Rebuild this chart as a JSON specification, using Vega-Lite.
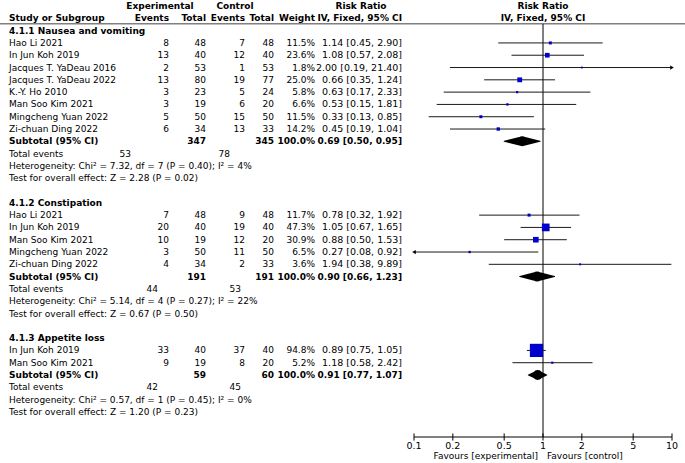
{
  "$schema": "https://vega.github.io/schema/vega-lite/v6.json",
  "width": 685,
  "height": 437,
  "padding": {"left": 0, "top": 0, "right": 0, "bottom": 26},
  "autosize": {"type": "none"},
  "background": "white",
  "config": {
    "view": {"stroke": null},
    "text": {"font": "DejaVu Sans", "fontSize": 9, "baseline": "middle", "color": "black"}
  },
  "datasets": {
    "studies": [
      {"g": "1", "row": 3, "study": "Hao Li 2021", "e_ev": 8, "e_tot": 48, "c_ev": 7, "c_tot": 48, "w": 0.115, "ci": "1.14 [0.45, 2.90]", "rr": 1.14, "lo": 0.45, "hi": 2.90},
      {"g": "1", "row": 4, "study": "In Jun Koh 2019", "e_ev": 13, "e_tot": 40, "c_ev": 12, "c_tot": 40, "w": 0.236, "ci": "1.08 [0.57, 2.08]", "rr": 1.08, "lo": 0.57, "hi": 2.08},
      {"g": "1", "row": 5, "study": "Jacques T. YaDeau 2016", "e_ev": 2, "e_tot": 53, "c_ev": 1, "c_tot": 53, "w": 0.018, "ci": "2.00 [0.19, 21.40]", "rr": 2.00, "lo": 0.19, "hi": 21.40},
      {"g": "1", "row": 6, "study": "Jacques T. YaDeau 2022", "e_ev": 13, "e_tot": 80, "c_ev": 19, "c_tot": 77, "w": 0.250, "ci": "0.66 [0.35, 1.24]", "rr": 0.66, "lo": 0.35, "hi": 1.24},
      {"g": "1", "row": 7, "study": "K.-Y. Ho 2010", "e_ev": 3, "e_tot": 23, "c_ev": 5, "c_tot": 24, "w": 0.058, "ci": "0.63 [0.17, 2.33]", "rr": 0.63, "lo": 0.17, "hi": 2.33},
      {"g": "1", "row": 8, "study": "Man Soo Kim 2021", "e_ev": 3, "e_tot": 19, "c_ev": 6, "c_tot": 20, "w": 0.066, "ci": "0.53 [0.15, 1.81]", "rr": 0.53, "lo": 0.15, "hi": 1.81},
      {"g": "1", "row": 9, "study": "Mingcheng Yuan 2022", "e_ev": 5, "e_tot": 50, "c_ev": 15, "c_tot": 50, "w": 0.115, "ci": "0.33 [0.13, 0.85]", "rr": 0.33, "lo": 0.13, "hi": 0.85},
      {"g": "1", "row": 10, "study": "Zi-chuan Ding 2022", "e_ev": 6, "e_tot": 34, "c_ev": 13, "c_tot": 33, "w": 0.142, "ci": "0.45 [0.19, 1.04]", "rr": 0.45, "lo": 0.19, "hi": 1.04},
      {"g": "2", "row": 17, "study": "Hao Li 2021", "e_ev": 7, "e_tot": 48, "c_ev": 9, "c_tot": 48, "w": 0.117, "ci": "0.78 [0.32, 1.92]", "rr": 0.78, "lo": 0.32, "hi": 1.92},
      {"g": "2", "row": 18, "study": "In Jun Koh 2019", "e_ev": 20, "e_tot": 40, "c_ev": 19, "c_tot": 40, "w": 0.473, "ci": "1.05 [0.67, 1.65]", "rr": 1.05, "lo": 0.67, "hi": 1.65},
      {"g": "2", "row": 19, "study": "Man Soo Kim 2021", "e_ev": 10, "e_tot": 19, "c_ev": 12, "c_tot": 20, "w": 0.309, "ci": "0.88 [0.50, 1.53]", "rr": 0.88, "lo": 0.50, "hi": 1.53},
      {"g": "2", "row": 20, "study": "Mingcheng Yuan 2022", "e_ev": 3, "e_tot": 50, "c_ev": 11, "c_tot": 50, "w": 0.065, "ci": "0.27 [0.08, 0.92]", "rr": 0.27, "lo": 0.08, "hi": 0.92},
      {"g": "2", "row": 21, "study": "Zi-chuan Ding 2022", "e_ev": 4, "e_tot": 34, "c_ev": 2, "c_tot": 33, "w": 0.036, "ci": "1.94 [0.38, 9.89]", "rr": 1.94, "lo": 0.38, "hi": 9.89},
      {"g": "3", "row": 28, "study": "In Jun Koh 2019", "e_ev": 33, "e_tot": 40, "c_ev": 37, "c_tot": 40, "w": 0.948, "ci": "0.89 [0.75, 1.05]", "rr": 0.89, "lo": 0.75, "hi": 1.05},
      {"g": "3", "row": 29, "study": "Man Soo Kim 2021", "e_ev": 9, "e_tot": 19, "c_ev": 8, "c_tot": 20, "w": 0.052, "ci": "1.18 [0.58, 2.42]", "rr": 1.18, "lo": 0.58, "hi": 2.42}
    ],
    "subtotals": [
      {"g": "1", "row": 11, "label": "Subtotal (95% CI)", "e_tot": 347, "c_tot": 345, "w": 1, "ci": "0.69 [0.50, 0.95]", "rr": 0.69, "lo": 0.50, "hi": 0.95},
      {"g": "2", "row": 22, "label": "Subtotal (95% CI)", "e_tot": 191, "c_tot": 191, "w": 1, "ci": "0.90 [0.66, 1.23]", "rr": 0.90, "lo": 0.66, "hi": 1.23},
      {"g": "3", "row": 30, "label": "Subtotal (95% CI)", "e_tot": 59, "c_tot": 60, "w": 1, "ci": "0.91 [0.77, 1.07]", "rr": 0.91, "lo": 0.77, "hi": 1.07}
    ],
    "events": [
      {"g": "1", "row": 12, "label": "Total events", "e_ev": 53, "c_ev": 78},
      {"g": "2", "row": 23, "label": "Total events", "e_ev": 44, "c_ev": 53},
      {"g": "3", "row": 31, "label": "Total events", "e_ev": 42, "c_ev": 45}
    ],
    "notes": [
      {"row": 13, "text": "Heterogeneity: Chi² = 7.32, df = 7 (P = 0.40); I² = 4%"},
      {"row": 14, "text": "Test for overall effect: Z = 2.28 (P = 0.02)"},
      {"row": 24, "text": "Heterogeneity: Chi² = 5.14, df = 4 (P = 0.27); I² = 22%"},
      {"row": 25, "text": "Test for overall effect: Z = 0.67 (P = 0.50)"},
      {"row": 32, "text": "Heterogeneity: Chi² = 0.57, df = 1 (P = 0.45); I² = 0%"},
      {"row": 33, "text": "Test for overall effect: Z = 1.20 (P = 0.23)"}
    ],
    "groups": [
      {"row": 2, "text": "4.1.1 Nausea and vomiting"},
      {"row": 16, "text": "4.1.2 Constipation"},
      {"row": 27, "text": "4.1.3 Appetite loss"}
    ],
    "ticks": [{"v": 0.1}, {"v": 0.2}, {"v": 0.5}, {"v": 1}, {"v": 2}, {"v": 5}, {"v": 10}]
  },
  "layer": [
    {
      "data": {"name": "ticks"},
      "mark": {"type": "rule", "color": "black", "strokeWidth": 1},
      "encoding": {
        "x": {"field": "v", "type": "quantitative",
          "scale": {"type": "log", "domain": [0.1, 10], "range": [414, 672], "clamp": true},
          "axis": null},
        "y": {"datum": 34.75, "type": "quantitative", "scale": {"domain": [-0.49, 35.04], "reverse": true, "nice": false, "zero": false}, "axis": null},
        "y2": {"datum": 35.33}
      }
    },
    {
      "data": {"values": [{}]},
      "mark": {"type": "rule", "color": "black", "strokeWidth": 1},
      "encoding": {"x": {"datum": 0.1, "type": "quantitative", "axis": null}, "x2": {"datum": 10}, "y": {"datum": 35.04, "type": "quantitative", "axis": null}}
    },
    {
      "data": {"name": "ticks"},
      "mark": {"type": "text", "align": "center", "fontSize": 9.5},
      "encoding": {"x": {"field": "v", "type": "quantitative", "axis": null}, "y": {"datum": 35.75, "type": "quantitative", "axis": null}, "text": {"field": "v", "type": "quantitative", "format": "~g"}}
    },
    {
      "data": {"values": [{}]},
      "mark": {"type": "rule", "color": "#808080", "strokeWidth": 1.5},
      "encoding": {"y": {"datum": 1.45, "type": "quantitative", "axis": null}}
    },
    {
      "data": {"values": [{}]},
      "mark": {"type": "rule", "color": "black", "strokeWidth": 1},
      "encoding": {"x": {"datum": 1, "type": "quantitative", "axis": null}, "y": {"datum": 1.45, "type": "quantitative", "axis": null}, "y2": {"datum": 35.04}}
    },
    {"data": {"values": [{}]}, "mark": {"type": "text", "text": "Experimental", "fontWeight": "bold", "align": "center"}, "encoding": {"x": {"value": 160}, "y": {"datum": 0, "type": "quantitative", "axis": null}}},
    {"data": {"values": [{}]}, "mark": {"type": "text", "text": "Control", "fontWeight": "bold", "align": "center"}, "encoding": {"x": {"value": 235}, "y": {"datum": 0, "type": "quantitative", "axis": null}}},
    {"data": {"values": [{}]}, "mark": {"type": "text", "text": "Risk Ratio", "fontWeight": "bold", "align": "center"}, "encoding": {"x": {"value": 361}, "y": {"datum": 0, "type": "quantitative", "axis": null}}},
    {"data": {"values": [{}]}, "mark": {"type": "text", "text": "Risk Ratio", "fontWeight": "bold", "align": "center"}, "encoding": {"x": {"datum": 1, "type": "quantitative", "axis": null}, "y": {"datum": 0, "type": "quantitative", "axis": null}}},
    {"data": {"values": [{}]}, "mark": {"type": "text", "text": "Study or Subgroup", "fontWeight": "bold", "align": "left"}, "encoding": {"x": {"value": 9}, "y": {"datum": 1, "type": "quantitative", "axis": null}}},
    {"data": {"values": [{}]}, "mark": {"type": "text", "text": "Events", "fontWeight": "bold", "align": "right"}, "encoding": {"x": {"value": 169}, "y": {"datum": 1, "type": "quantitative", "axis": null}}},
    {"data": {"values": [{}]}, "mark": {"type": "text", "text": "Total", "fontWeight": "bold", "align": "right"}, "encoding": {"x": {"value": 206}, "y": {"datum": 1, "type": "quantitative", "axis": null}}},
    {"data": {"values": [{}]}, "mark": {"type": "text", "text": "Events", "fontWeight": "bold", "align": "right"}, "encoding": {"x": {"value": 245}, "y": {"datum": 1, "type": "quantitative", "axis": null}}},
    {"data": {"values": [{}]}, "mark": {"type": "text", "text": "Total", "fontWeight": "bold", "align": "right"}, "encoding": {"x": {"value": 274}, "y": {"datum": 1, "type": "quantitative", "axis": null}}},
    {"data": {"values": [{}]}, "mark": {"type": "text", "text": "Weight", "fontWeight": "bold", "align": "right"}, "encoding": {"x": {"value": 315}, "y": {"datum": 1, "type": "quantitative", "axis": null}}},
    {"data": {"values": [{}]}, "mark": {"type": "text", "text": "IV, Fixed, 95% CI", "fontWeight": "bold", "align": "right"}, "encoding": {"x": {"value": 402}, "y": {"datum": 1, "type": "quantitative", "axis": null}}},
    {"data": {"values": [{}]}, "mark": {"type": "text", "text": "IV, Fixed, 95% CI", "fontWeight": "bold", "align": "center"}, "encoding": {"x": {"datum": 1, "type": "quantitative", "axis": null}, "y": {"datum": 1, "type": "quantitative", "axis": null}}},
    {"data": {"name": "groups"}, "mark": {"type": "text", "fontWeight": "bold", "align": "left"}, "encoding": {"x": {"value": 9}, "y": {"field": "row", "type": "quantitative", "axis": null}, "text": {"field": "text"}}},
    {"data": {"name": "studies"}, "mark": {"type": "text", "align": "left"}, "encoding": {"x": {"value": 9}, "y": {"field": "row", "type": "quantitative", "axis": null}, "text": {"field": "study"}}},
    {"data": {"name": "studies"}, "mark": {"type": "text", "align": "right"}, "encoding": {"x": {"value": 169}, "y": {"field": "row", "type": "quantitative", "axis": null}, "text": {"field": "e_ev"}}},
    {"data": {"name": "studies"}, "mark": {"type": "text", "align": "right"}, "encoding": {"x": {"value": 206}, "y": {"field": "row", "type": "quantitative", "axis": null}, "text": {"field": "e_tot"}}},
    {"data": {"name": "studies"}, "mark": {"type": "text", "align": "right"}, "encoding": {"x": {"value": 245}, "y": {"field": "row", "type": "quantitative", "axis": null}, "text": {"field": "c_ev"}}},
    {"data": {"name": "studies"}, "mark": {"type": "text", "align": "right"}, "encoding": {"x": {"value": 274}, "y": {"field": "row", "type": "quantitative", "axis": null}, "text": {"field": "c_tot"}}},
    {"data": {"name": "studies"}, "mark": {"type": "text", "align": "right"}, "encoding": {"x": {"value": 315}, "y": {"field": "row", "type": "quantitative", "axis": null}, "text": {"field": "w", "type": "quantitative", "format": ".1%"}}},
    {"data": {"name": "studies"}, "mark": {"type": "text", "align": "right", "fontSize": 9.5}, "encoding": {"x": {"value": 402}, "y": {"field": "row", "type": "quantitative", "axis": null}, "text": {"field": "ci"}}},
    {"data": {"name": "subtotals"}, "mark": {"type": "text", "align": "left", "fontWeight": "bold"}, "encoding": {"x": {"value": 9}, "y": {"field": "row", "type": "quantitative", "axis": null}, "text": {"field": "label"}}},
    {"data": {"name": "subtotals"}, "mark": {"type": "text", "align": "right", "fontWeight": "bold"}, "encoding": {"x": {"value": 206}, "y": {"field": "row", "type": "quantitative", "axis": null}, "text": {"field": "e_tot"}}},
    {"data": {"name": "subtotals"}, "mark": {"type": "text", "align": "right", "fontWeight": "bold"}, "encoding": {"x": {"value": 274}, "y": {"field": "row", "type": "quantitative", "axis": null}, "text": {"field": "c_tot"}}},
    {"data": {"name": "subtotals"}, "mark": {"type": "text", "align": "right", "fontWeight": "bold"}, "encoding": {"x": {"value": 315}, "y": {"field": "row", "type": "quantitative", "axis": null}, "text": {"field": "w", "type": "quantitative", "format": ".1%"}}},
    {"data": {"name": "subtotals"}, "mark": {"type": "text", "align": "right", "fontWeight": "bold"}, "encoding": {"x": {"value": 402}, "y": {"field": "row", "type": "quantitative", "axis": null}, "text": {"field": "ci"}}},
    {"data": {"name": "events"}, "mark": {"type": "text", "align": "left"}, "encoding": {"x": {"value": 9}, "y": {"field": "row", "type": "quantitative", "axis": null}, "text": {"field": "label"}}},
    {"data": {"name": "events"}, "transform": [{"filter": "datum.g == '1'"}], "mark": {"type": "text", "align": "right"}, "encoding": {"x": {"value": 131}, "y": {"field": "row", "type": "quantitative", "axis": null}, "text": {"field": "e_ev"}}},
    {"data": {"name": "events"}, "transform": [{"filter": "datum.g == '1'"}], "mark": {"type": "text", "align": "right"}, "encoding": {"x": {"value": 230}, "y": {"field": "row", "type": "quantitative", "axis": null}, "text": {"field": "c_ev"}}},
    {"data": {"name": "events"}, "transform": [{"filter": "datum.g != '1'"}], "mark": {"type": "text", "align": "right"}, "encoding": {"x": {"value": 158}, "y": {"field": "row", "type": "quantitative", "axis": null}, "text": {"field": "e_ev"}}},
    {"data": {"name": "events"}, "transform": [{"filter": "datum.g != '1'"}], "mark": {"type": "text", "align": "right"}, "encoding": {"x": {"value": 241}, "y": {"field": "row", "type": "quantitative", "axis": null}, "text": {"field": "c_ev"}}},
    {"data": {"name": "notes"}, "mark": {"type": "text", "align": "left"}, "encoding": {"x": {"value": 9}, "y": {"field": "row", "type": "quantitative", "axis": null}, "text": {"field": "text"}}},
    {
      "data": {"name": "studies"},
      "mark": {"type": "rule", "color": "#1a1a1a", "strokeWidth": 1},
      "encoding": {
        "x": {"field": "lo", "type": "quantitative", "axis": null},
        "x2": {"field": "hi"},
        "y": {"field": "row", "type": "quantitative", "axis": null}
      }
    },
    {
      "data": {"name": "studies"},
      "transform": [{"filter": "datum.hi > 10"}],
      "mark": {"type": "point", "shape": "triangle-right", "filled": true, "color": "black", "opacity": 1, "size": 18},
      "encoding": {"x": {"field": "hi", "type": "quantitative", "axis": null}, "y": {"field": "row", "type": "quantitative", "axis": null}}
    },
    {
      "data": {"name": "studies"},
      "transform": [{"filter": "datum.lo < 0.1"}],
      "mark": {"type": "point", "shape": "triangle-left", "filled": true, "color": "black", "opacity": 1, "size": 18},
      "encoding": {"x": {"field": "lo", "type": "quantitative", "axis": null}, "y": {"field": "row", "type": "quantitative", "axis": null}}
    },
    {
      "data": {"name": "studies"},
      "mark": {"type": "point", "shape": "square", "filled": true, "color": "#0000cc", "opacity": 1},
      "encoding": {
        "x": {"field": "rr", "type": "quantitative", "axis": null},
        "y": {"field": "row", "type": "quantitative", "axis": null},
        "size": {"field": "w", "type": "quantitative", "scale": {"type": "pow", "exponent": 1.6, "domain": [0, 1], "range": [3, 190]}, "legend": null}
      }
    },
    {
      "data": {"name": "subtotals"},
      "transform": [{"fold": ["lo", "rr", "hi"], "as": ["key", "value"]}],
      "mark": {"type": "trail", "color": "black"},
      "encoding": {
        "x": {"field": "value", "type": "quantitative", "axis": null},
        "y": {"field": "row", "type": "quantitative", "axis": null},
        "detail": {"field": "g"},
        "order": {"field": "value", "type": "quantitative"},
        "size": {"condition": {"test": "datum.key == 'rr'", "value": 10}, "value": 0}
      }
    },
    {"data": {"values": [{}]}, "mark": {"type": "text", "text": "Favours [experimental]", "align": "right", "dx": -5}, "encoding": {"x": {"datum": 1, "type": "quantitative", "axis": null}, "y": {"datum": 36.62, "type": "quantitative", "axis": null}}},
    {"data": {"values": [{}]}, "mark": {"type": "text", "text": "Favours [control]", "align": "left", "dx": 4}, "encoding": {"x": {"datum": 1, "type": "quantitative", "axis": null}, "y": {"datum": 36.62, "type": "quantitative", "axis": null}}}
  ]
}
